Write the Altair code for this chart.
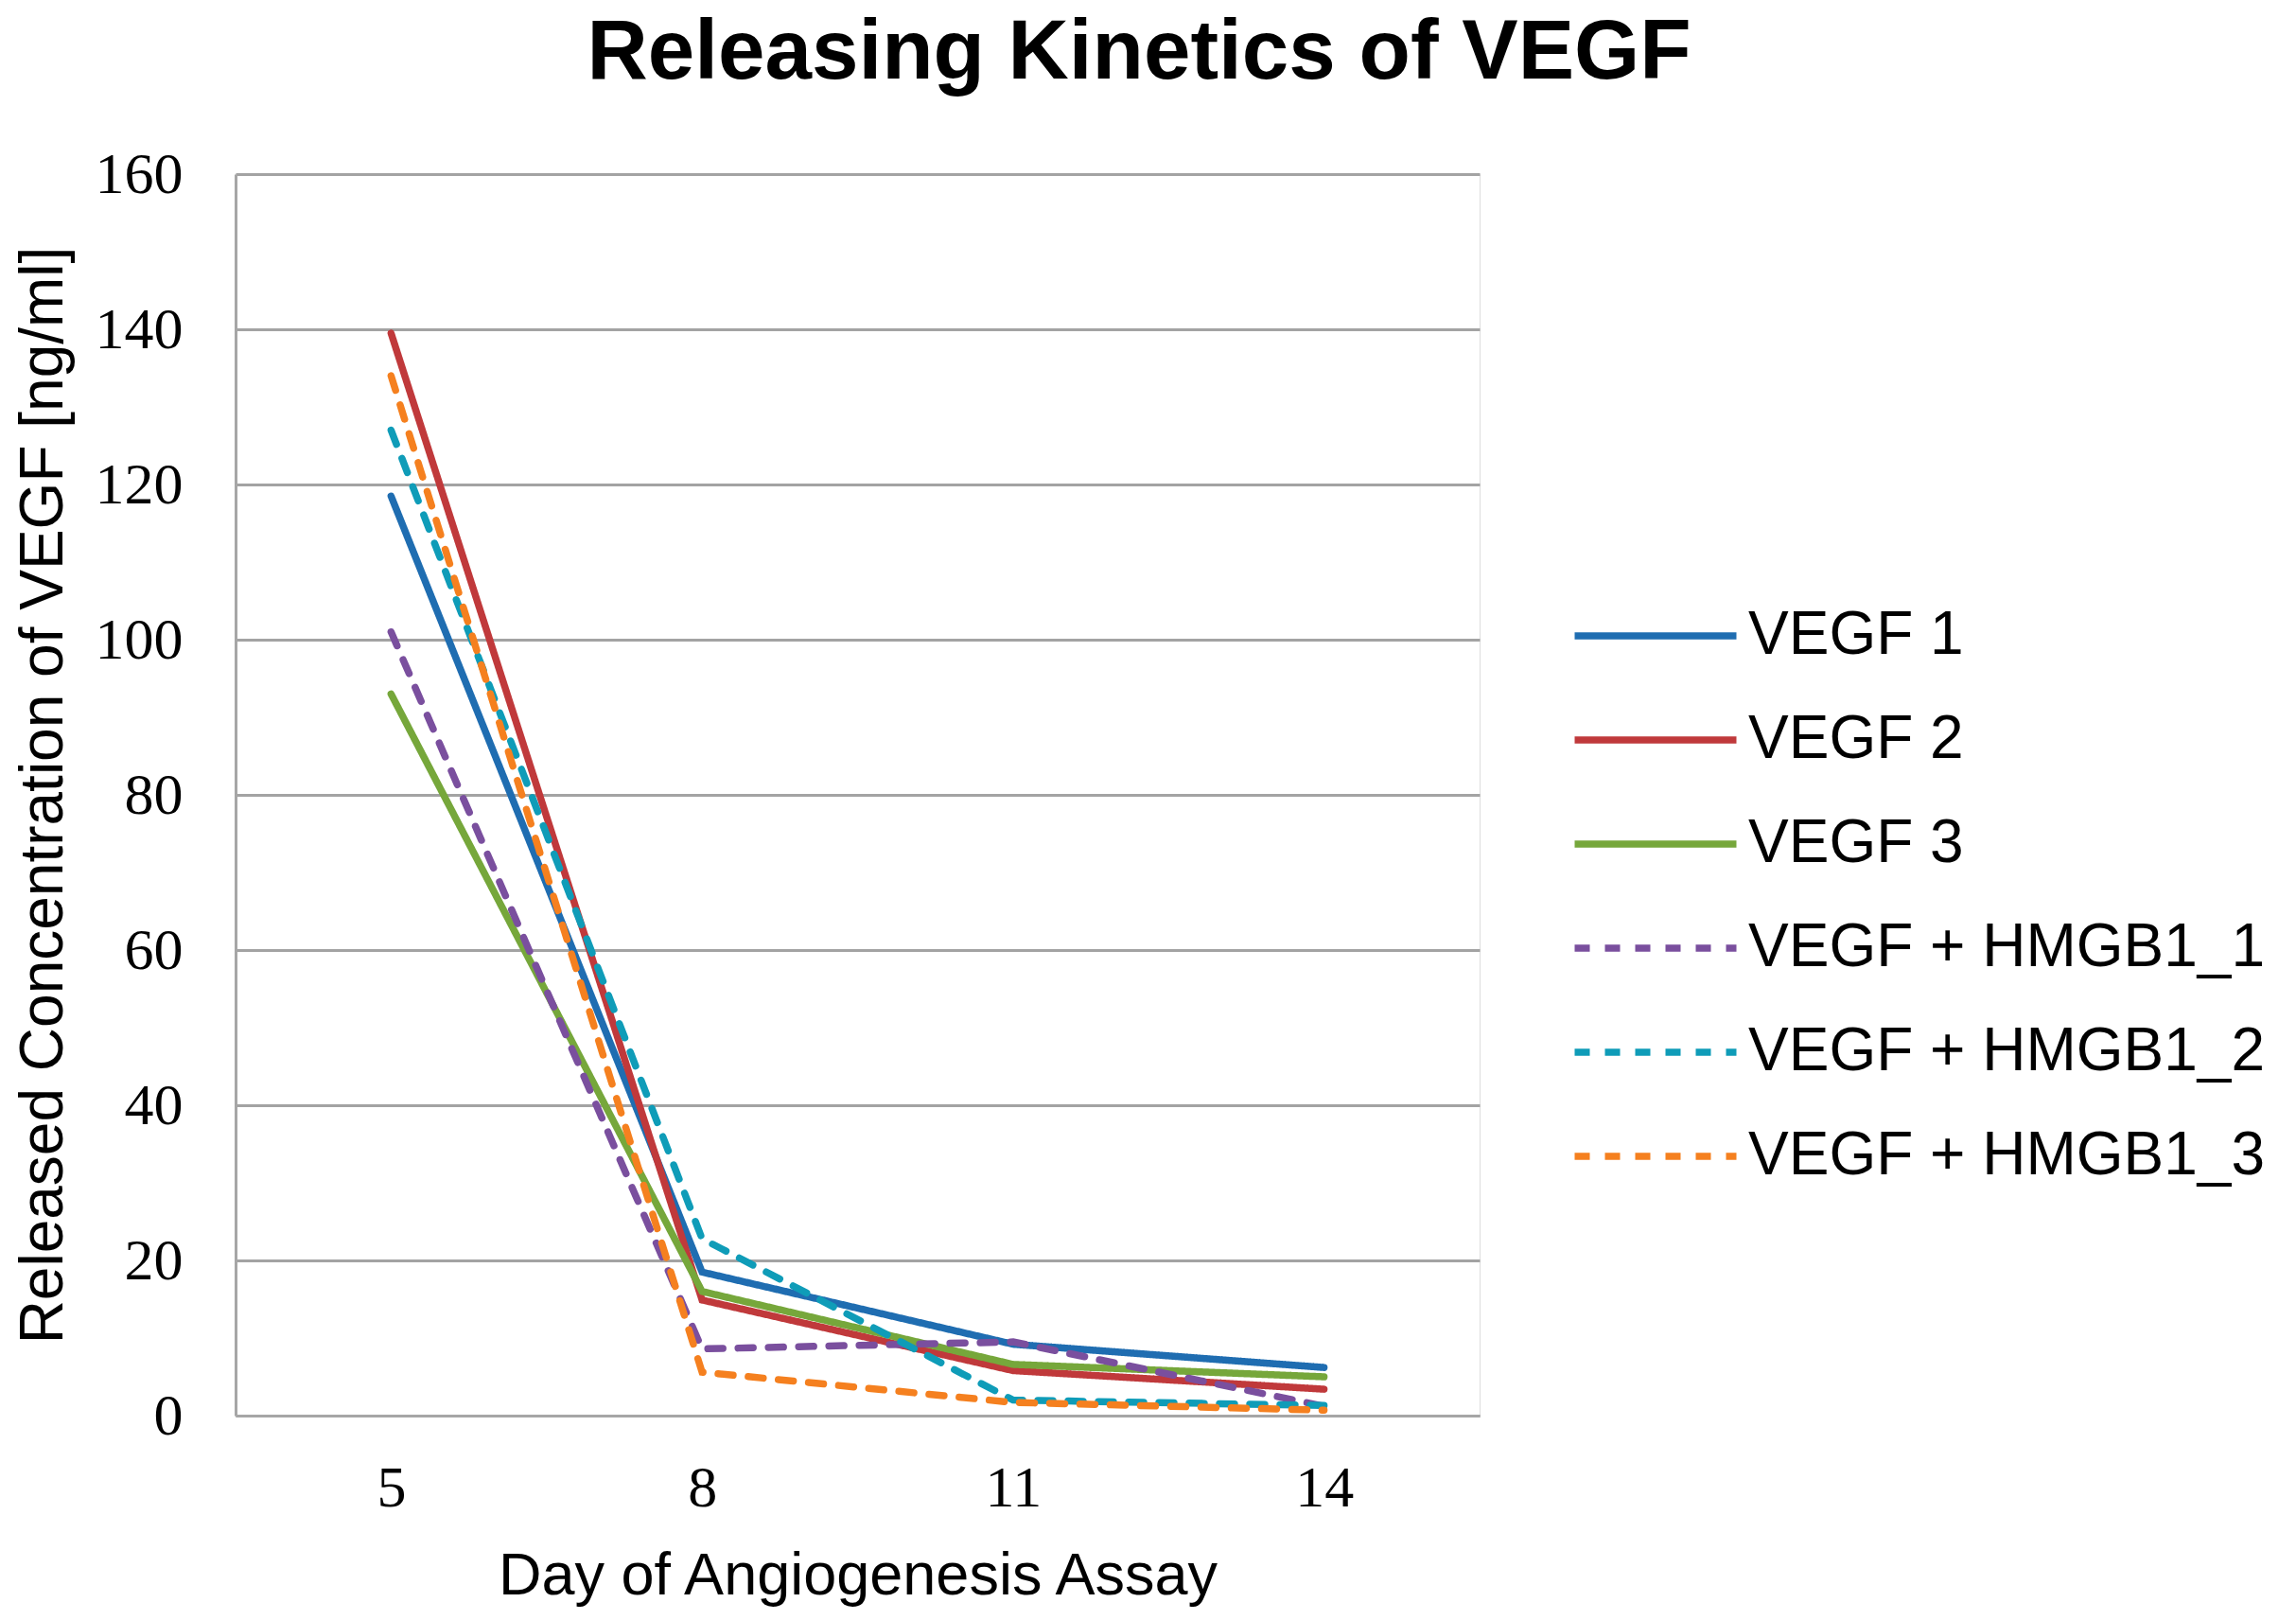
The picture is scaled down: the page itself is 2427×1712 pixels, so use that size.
import pandas as pd
import altair as alt

days = [5, 8, 11, 14]
series = ["VEGF 1", "VEGF 2", "VEGF 3", "VEGF + HMGB1_1", "VEGF + HMGB1_2", "VEGF + HMGB1_3"]
vegf_1 = [118.5, 18.5, 9.2, 6.2]
vegf_2 = [139.5, 14.9, 5.8, 3.4]
vegf_3 = [93.0, 16.0, 6.6, 5.0]
hmgb1_1 = [101.0, 8.6, 9.5, 1.2]
hmgb1_2 = [127.0, 22.8, 2.0, 1.3]
hmgb1_3 = [134.0, 5.6, 1.7, 0.7]

colors = ["#1f6db1", "#c0393b", "#76a73b", "#7a4f9e", "#0f9cb8", "#f5801f"]
dashes = [[1, 0], [1, 0], [1, 0], [16, 16], [16, 16], [16, 16]]

rows = []
for name, vals in zip(series, [vegf_1, vegf_2, vegf_3, hmgb1_1, hmgb1_2, hmgb1_3]):
    for d, v in zip(days, vals):
        rows.append({"day": d, "series": name, "conc": v})
df = pd.DataFrame(rows)

legend = alt.Legend(
    title=None,
    orient="none",
    legendX=1447,
    legendY=434,
    labelFont="Liberation Sans",
    labelFontSize=64,
    labelColor="black",
    labelLimit=800,
    labelOffset=44,
    symbolType="M-1.71,0H1.71",
    symbolSize=10000,
    symbolStrokeWidth=7.5,
    rowPadding=24,
    padding=0,
)

chart = alt.Chart(df).mark_line(strokeWidth=7.5, strokeCap="round").encode(
    x=alt.X("day:O", title="Day of Angiogenesis Assay",
            axis=alt.Axis(labelAngle=0, labelFont="Liberation Serif", labelFontSize=62,
                          labelColor="black", labelPadding=46, ticks=False,
                          domainColor="#a6a6a6", domainWidth=3,
                          titleFont="Liberation Sans", titleFontSize=63, titleFontWeight="normal",
                          titleColor="black", titlePadding=31)),
    y=alt.Y("conc:Q", title="Released Concentration of VEGF [ng/ml]",
            scale=alt.Scale(domain=[0, 160], nice=False),
            axis=alt.Axis(values=[0, 20, 40, 60, 80, 100, 120, 140, 160],
                          labelFont="Liberation Serif", labelFontSize=62, labelColor="black",
                          labelPadding=56, ticks=False, domainColor="#a6a6a6", domainWidth=3,
                          gridColor="#a3a3a3", gridWidth=2.8,
                          titleFont="Liberation Sans", titleFontSize=64, titleFontWeight="normal",
                          titleColor="black", titlePadding=22)),
    color=alt.Color("series:N", scale=alt.Scale(domain=series, range=colors), legend=legend),
    strokeDash=alt.StrokeDash("series:N", scale=alt.Scale(domain=series, range=dashes), legend=legend),
    order=alt.Order("idx:Q"),
).transform_calculate(
    idx="indexof(" + str(series) + ", datum.series)"
).properties(
    width=1315,
    height=1312,
    padding={"left": 6, "top": 4, "right": 5, "bottom": 5},
    title=alt.TitleParams("Releasing Kinetics of VEGF", font="Liberation Sans", fontSize=89,
                          fontWeight="bold", color="black", anchor="middle", frame="bounds",
                          offset=51),
).configure_view(stroke=None).configure(background="white")

chart.save("out.html", embed_options={"renderer": "svg", "actions": False})
